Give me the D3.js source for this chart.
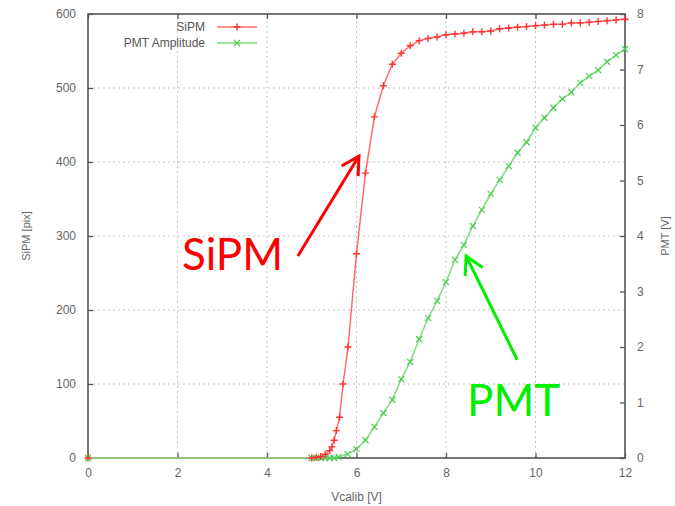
<!DOCTYPE html>
<html>
<head>
<meta charset="utf-8">
<script src="https://cdnjs.cloudflare.com/ajax/libs/d3/7.8.5/d3.min.js"></script>
<style>
  body { margin: 0; background: #fff; }
</style>
</head>
<body>
<div id="chart"></div>
<script>
const width = 675;
const height = 506;
const margin = { top: 14, right: 50, bottom: 48, left: 88 };

// SiPM curve (left axis, pixels)
const sipmV = [0, 5.0, 5.1, 5.2, 5.3, 5.4, 5.45, 5.5, 5.55, 5.62, 5.7, 5.81, 6.0, 6.2, 6.4, 6.6, 6.8, 7.0, 7.2, 7.4, 7.6, 7.8, 8.0, 8.2, 8.4, 8.6, 8.8, 9.0, 9.2, 9.4, 9.6, 9.8, 10.0, 10.2, 10.4, 10.6, 10.8, 11.0, 11.2, 11.4, 11.6, 11.8, 12.0];
const sipmPix = [0, 0, 1, 2, 5, 10, 15, 24, 37, 55, 100, 150, 276, 385, 461, 503, 532, 547, 557, 564, 567, 569, 572, 573, 574, 576, 576, 577, 580, 581, 582, 583, 584, 585, 586, 586, 588, 588, 589, 590, 591, 592, 593];

// PMT amplitude (right axis, volts)
const pmtV = [0, 5.0, 5.1, 5.2, 5.3, 5.4, 5.5, 5.6, 5.8, 6.0, 6.2, 6.4, 6.6, 6.8, 7.0, 7.2, 7.4, 7.6, 7.8, 8.0, 8.2, 8.4, 8.6, 8.8, 9.0, 9.2, 9.4, 9.6, 9.8, 10.0, 10.2, 10.4, 10.6, 10.8, 11.0, 11.2, 11.4, 11.6, 11.8, 12.0];
const pmtAmp = [0, 0, 0, 0, 0, 0, 0, 0.02, 0.07, 0.16, 0.32, 0.56, 0.81, 1.05, 1.42, 1.73, 2.14, 2.52, 2.83, 3.17, 3.57, 3.84, 4.18, 4.47, 4.76, 5.01, 5.26, 5.50, 5.69, 5.95, 6.13, 6.31, 6.47, 6.59, 6.76, 6.88, 6.99, 7.14, 7.26, 7.37];

const xTicks = [0, 2, 4, 6, 8, 10, 12];
const yTicks = [0, 100, 200, 300, 400, 500, 600];
const y2Ticks = [0, 1, 2, 3, 4, 5, 6, 7, 8];

const sipm = sipmV.map((v, i) => ({ x: v, y: sipmPix[i] }));
const pmt = pmtV.map((v, i) => ({ x: v, y: pmtAmp[i] }));

const svg = d3.select("#chart").append("svg")
  .attr("width", width)
  .attr("height", height)
  .style("font-family", "'Liberation Sans', Arial, sans-serif");

const x = d3.scaleLinear().domain([0, 12]).range([margin.left, width - margin.right]);
const y = d3.scaleLinear().domain([0, 600]).range([height - margin.bottom, margin.top]);
const y2 = d3.scaleLinear().domain([0, 8]).range([height - margin.bottom, margin.top]);

const x0 = x.range()[0], x1 = x.range()[1];
const yb = y.range()[0], yt = y.range()[1];

// grid (dotted)
const grid = svg.append("g").attr("stroke", "#c4c4c4").attr("stroke-dasharray", "2,3").attr("stroke-width", 1);
grid.selectAll(".gx").data(xTicks.slice(1, -1)).join("line")
  .attr("x1", d => x(d)).attr("x2", d => x(d)).attr("y1", yb).attr("y2", yt);
grid.selectAll(".gy").data(yTicks.slice(1, -1)).join("line")
  .attr("x1", x0).attr("x2", x1).attr("y1", d => y(d)).attr("y2", d => y(d));

// axes with inward ticks
const tickColor = "#555";
const labelColor = "#666";
const tickFont = "12px";

const xAxis = svg.append("g").attr("transform", `translate(0,${yb})`)
  .call(d3.axisBottom(x).tickValues(xTicks).tickSize(-5).tickPadding(10));
const xTop = svg.append("g").attr("transform", `translate(0,${yt})`)
  .call(d3.axisTop(x).tickValues(xTicks).tickSize(-5).tickFormat(""));
const yAxis = svg.append("g").attr("transform", `translate(${x0},0)`)
  .call(d3.axisLeft(y).tickValues(yTicks).tickSize(-5).tickPadding(12));
const y2Axis = svg.append("g").attr("transform", `translate(${x1},0)`)
  .call(d3.axisRight(y2).tickValues(y2Ticks).tickSize(-5).tickPadding(12));

[xAxis, xTop, yAxis, y2Axis].forEach(g => {
  g.select(".domain").remove();
  g.selectAll(".tick line").attr("stroke", tickColor).attr("stroke-width", 1.3);
  g.selectAll(".tick text").attr("fill", labelColor).style("font-size", tickFont);
});

// frame
svg.append("rect")
  .attr("x", x0).attr("y", yt)
  .attr("width", x1 - x0).attr("height", yb - yt)
  .attr("fill", "none").attr("stroke", "#555").attr("stroke-width", 1.6);

// axis titles
svg.append("text")
  .attr("transform", `translate(30,${(yb + yt) / 2}) rotate(-90)`)
  .attr("text-anchor", "middle")
  .attr("fill", labelColor).style("font-size", "11px")
  .text("SiPM [pix]");
svg.append("text")
  .attr("transform", `translate(669,${(yb + yt) / 2}) rotate(-90)`)
  .attr("text-anchor", "middle")
  .attr("fill", labelColor).style("font-size", "11px")
  .text("PMT [V]");
svg.append("text")
  .attr("x", (x0 + x1) / 2).attr("y", 501)
  .attr("text-anchor", "middle")
  .attr("fill", labelColor).style("font-size", "12px")
  .text("Vcalib [V]");

// curves
const redLine = "#ff6b6b", redPt = "#ff3333";
const greenLine = "#7ddc7d", greenPt = "#4ccc4c";

svg.append("path").datum(sipm)
  .attr("fill", "none").attr("stroke", redLine).attr("stroke-width", 1.5)
  .attr("d", d3.line().x(d => x(d.x)).y(d => y(d.y)));
svg.append("path").datum(pmt)
  .attr("fill", "none").attr("stroke", greenLine).attr("stroke-width", 1.5)
  .attr("d", d3.line().x(d => x(d.x)).y(d => y2(d.y)));

function drawPlus(g, cx, cy, s, color) {
  g.append("path")
    .attr("d", `M${cx - s},${cy}H${cx + s}M${cx},${cy - s}V${cy + s}`)
    .attr("stroke", color).attr("stroke-width", 1.4).attr("fill", "none");
}
function drawX(g, cx, cy, s, color) {
  g.append("path")
    .attr("d", `M${cx - s},${cy - s}L${cx + s},${cy + s}M${cx - s},${cy + s}L${cx + s},${cy - s}`)
    .attr("stroke", color).attr("stroke-width", 1.2).attr("fill", "none");
}

const pts = svg.append("g");
pmt.forEach(d => drawX(pts, x(d.x), y2(d.y), 3, greenPt));
sipm.forEach(d => drawPlus(pts, x(d.x), y(d.y), 3.5, redPt));

// legend
const leg = svg.append("g").style("font-size", "12px").attr("fill", "#555");
leg.append("text").attr("x", 205).attr("y", 31).attr("text-anchor", "end").text("SiPM");
leg.append("text").attr("x", 205).attr("y", 47).attr("text-anchor", "end").text("PMT Amplitude");
leg.append("line").attr("x1", 217).attr("x2", 257).attr("y1", 27).attr("y2", 27)
  .attr("stroke", redLine).attr("stroke-width", 1.5);
drawPlus(leg, 237, 27, 3.5, redPt);
leg.append("line").attr("x1", 217).attr("x2", 257).attr("y1", 43).attr("y2", 43)
  .attr("stroke", greenLine).attr("stroke-width", 1.5);
drawX(leg, 237, 43, 3, greenPt);

// annotations (positioned in data coordinates)
function arrow(color, fx, fy, tx, ty) {
  const ang = Math.atan2(fy - ty, fx - tx);
  const L = 20, a = 29 * Math.PI / 180;
  const g = svg.append("g").attr("stroke", color).attr("stroke-width", 3).attr("fill", "none");
  g.append("line").attr("x1", fx).attr("y1", fy).attr("x2", tx).attr("y2", ty);
  g.append("path").attr("d",
    `M${tx + L * Math.cos(ang + a)},${ty + L * Math.sin(ang + a)}L${tx},${ty}L${tx + L * Math.cos(ang - a)},${ty + L * Math.sin(ang - a)}`);
}
arrow("#ff0000", x(4.69), y(273), x(6.055), y(408));
arrow("#00ee00", x(9.59), y2(1.77), x(8.45), y2(3.64));

svg.append("text")
  .attr("x", x(2.1)).attr("y", y(254))
  .attr("fill", "#ff0000")
  .style("font-family", "Lato, 'Open Sans', sans-serif").style("font-size", "44px")
  .text("SiPM");
svg.append("text")
  .attr("x", x(8.47)).attr("y", y2(0.76))
  .attr("fill", "#00ee00")
  .style("font-family", "Lato, 'Open Sans', sans-serif").style("font-size", "44px")
  .text("PMT");
</script>
</body>
</html>
